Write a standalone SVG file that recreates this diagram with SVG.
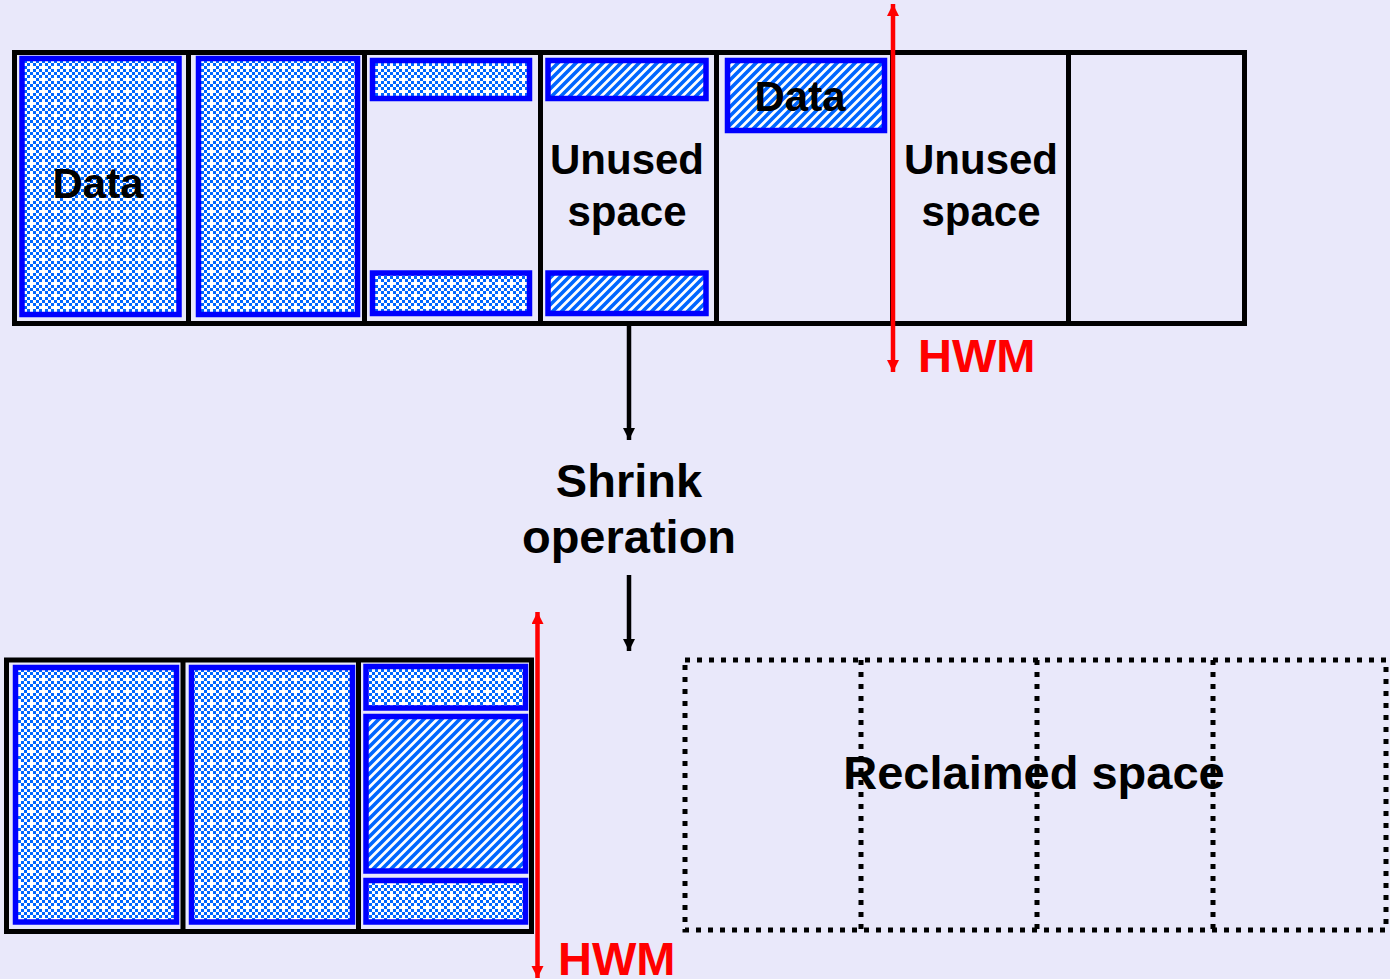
<svg xmlns="http://www.w3.org/2000/svg" width="1390" height="979" viewBox="0 0 1390 979">
  <defs>
    <!-- blue confetti fill for data blocks -->
    <pattern id="dots" patternUnits="userSpaceOnUse" width="12" height="12">
      <rect width="12" height="12" fill="#ffffff"/>
      <g fill="#0066ff">
        <rect x="0" y="0" width="3" height="3"/>
        <rect x="6" y="0" width="3" height="3"/>
        <rect x="3" y="3" width="3" height="3"/>
        <rect x="9" y="3" width="3" height="3"/>
        <rect x="0" y="6" width="3" height="3"/>
        <rect x="3" y="9" width="3" height="3"/>
        <rect x="9" y="9" width="3" height="3"/>
      </g>
    </pattern>
    <!-- diagonal hatch for moved rows -->
    <pattern id="hatch" patternUnits="userSpaceOnUse" width="9" height="9">
      <rect width="9" height="9" fill="#ffffff"/>
      <path d="M-3,12 L12,-3 M-7.5,7.5 L7.5,-7.5 M1.5,16.5 L16.5,1.5" stroke="#0066ff" stroke-width="3.6"/>
    </pattern>
    <marker id="redHead" markerUnits="userSpaceOnUse" markerWidth="13" markerHeight="13" refX="12" refY="6" orient="auto">
      <path d="M0,0 L12,6 L0,12 Z" fill="#ff0000"/>
    </marker>
    <marker id="blackHead" markerUnits="userSpaceOnUse" markerWidth="13" markerHeight="13" refX="12" refY="6" orient="auto">
      <path d="M0,0 L12,6 L0,12 Z" fill="#000000"/>
    </marker>
  </defs>
  <style>
    .seg { fill: none; stroke: #000; stroke-width: 5; }
    .div { stroke: #000; stroke-width: 5; }
    .dash { fill: none; stroke: #000; stroke-width: 5; stroke-dasharray: 5 7; }
    .blkD { fill: url(#dots); stroke: #0000ff; stroke-width: 5.5; }
    .blkH { fill: url(#hatch); stroke: #0000ff; stroke-width: 5.5; }
    .lbl { font-family: "Liberation Sans", Arial, sans-serif; font-weight: bold; font-size: 42px; fill: #000; text-anchor: middle; }
    .big { font-size: 47px; }
    .hwm { font-family: "Liberation Sans", Arial, sans-serif; font-weight: bold; font-size: 47px; fill: #ff0000; }
    .red { stroke: #ff0000; stroke-width: 4.5; }
    .arr { stroke: #000; stroke-width: 4.5; }
  </style>

  <rect width="1390" height="979" fill="#e9e8fa"/>

  <!-- segment before shrink -->
  <g id="segment-before">
    <rect class="seg" x="14.5" y="52.5" width="1230" height="271"/>
    <line class="div" x1="188.5" y1="52.5" x2="188.5" y2="323.5"/>
    <line class="div" x1="364.5" y1="52.5" x2="364.5" y2="323.5"/>
    <line class="div" x1="540.5" y1="52.5" x2="540.5" y2="323.5"/>
    <line class="div" x1="716.5" y1="52.5" x2="716.5" y2="323.5"/>
    <line class="div" x1="892.5" y1="52.5" x2="892.5" y2="323.5"/>
    <line class="div" x1="1068.5" y1="52.5" x2="1068.5" y2="323.5"/>
  </g>
  <g id="block1-full">
    <rect class="blkD" x="22" y="58.5" width="157" height="256"/>
    <text class="lbl" x="98" y="198">Data</text>
  </g>
  <g id="block2-full">
    <rect class="blkD" x="198.5" y="58.5" width="159" height="256"/>
  </g>
  <g id="block3-partial">
    <rect class="blkD" x="372.5" y="60.5" width="157" height="38"/>
    <rect class="blkD" x="372.5" y="273" width="157" height="40.5"/>
  </g>
  <g id="block4-partial">
    <rect class="blkH" x="548" y="60.5" width="158" height="38"/>
    <rect class="blkH" x="548" y="273" width="158" height="40.5"/>
    <text class="lbl" x="627" y="174">Unused</text>
    <text class="lbl" x="627" y="226">space</text>
  </g>
  <g id="block5-partial">
    <rect class="blkH" x="727.5" y="60.5" width="157" height="70"/>
    <text class="lbl" x="800" y="111">Data</text>
  </g>
  <g id="block6-empty">
    <text class="lbl" x="981" y="174">Unused</text>
    <text class="lbl" x="981" y="226">space</text>
  </g>

  <!-- segment after shrink -->
  <g id="segment-after">
    <rect class="seg" x="6.5" y="660" width="525" height="271.5"/>
    <line class="div" x1="183" y1="660" x2="183" y2="931.5"/>
    <line class="div" x1="358.5" y1="660" x2="358.5" y2="931.5"/>
  </g>
  <g id="after-block1">
    <rect class="blkD" x="15.5" y="667.5" width="161" height="254.5"/>
  </g>
  <g id="after-block2">
    <rect class="blkD" x="191.5" y="667.5" width="161" height="254.5"/>
  </g>
  <g id="after-block3">
    <rect class="blkD" x="366" y="666.5" width="159.5" height="41.5"/>
    <rect class="blkH" x="366" y="716.5" width="159.5" height="154.5"/>
    <rect class="blkD" x="366" y="880.5" width="159.5" height="41.5"/>
  </g>

  <!-- freed blocks -->
  <g id="reclaimed">
    <rect class="dash" x="685" y="660" width="701" height="270"/>
    <line class="dash" x1="861" y1="660" x2="861" y2="930"/>
    <line class="dash" x1="1037" y1="660" x2="1037" y2="930"/>
    <line class="dash" x1="1213" y1="660" x2="1213" y2="930"/>
    <text class="lbl big" x="1034" y="789">Reclaimed space</text>
  </g>

  <g id="shrink-op">
    <text class="lbl big" x="629" y="497">Shrink</text>
    <text class="lbl big" x="629" y="553">operation</text>
  </g>

  <g id="hwm-before">
    <text class="hwm" x="918" y="372">HWM</text>
  </g>
  <g id="hwm-after">
    <text class="hwm" x="558" y="975">HWM</text>
  </g>

  <!-- connectors -->
  <g id="connectors">
    <line class="red" x1="893" y1="190" x2="893" y2="4" marker-end="url(#redHead)"/>
    <line class="red" x1="893" y1="190" x2="893" y2="372" marker-end="url(#redHead)"/>
    <line class="red" x1="537.5" y1="790" x2="537.5" y2="612" marker-end="url(#redHead)"/>
    <line class="red" x1="537.5" y1="790" x2="537.5" y2="978" marker-end="url(#redHead)"/>
    <line class="arr" x1="629" y1="326" x2="629" y2="440" marker-end="url(#blackHead)"/>
    <line class="arr" x1="629" y1="575" x2="629" y2="651" marker-end="url(#blackHead)"/>
  </g>
</svg>
